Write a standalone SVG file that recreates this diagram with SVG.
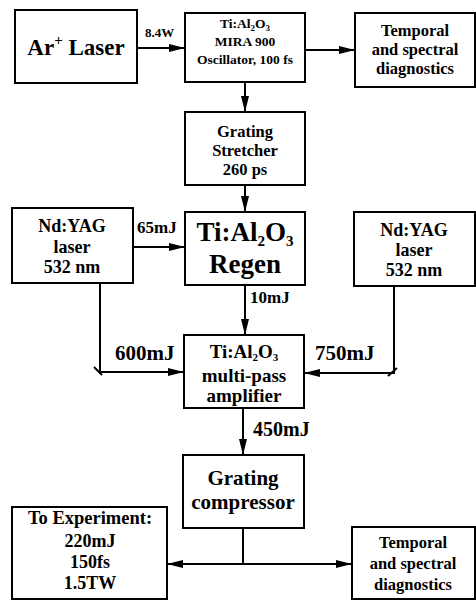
<svg xmlns="http://www.w3.org/2000/svg" width="476" height="600" viewBox="0 0 476 600">
<defs>
<marker id="ah" viewBox="0 0 16 8" refX="16" refY="4" markerWidth="16" markerHeight="8" markerUnits="userSpaceOnUse" orient="auto">
<path d="M0,0 L16,4 L0,8 z" fill="#000"/>
</marker>
</defs>
<style>
rect{fill:#fff;stroke:#000;stroke-width:2}
text{font-weight:bold;text-anchor:middle;fill:#000}
.c line,.c path{stroke:#000;stroke-width:2;fill:none}
.m{font-size:16.5px}
.n{font-size:18px}
.s{font-size:13.5px}
.l{font-size:17px;text-anchor:start}
</style>
<g font-family="Liberation Serif, serif">
<g id="ar-laser"><rect x="15" y="10" width="122" height="73"/><text x="76" y="55" style="font-size:23px">Ar<tspan dy="-10" style="font-size:15px">+</tspan><tspan dy="10"> Laser</tspan></text></g>
<g id="oscillator"><rect x="185" y="13" width="120" height="69"/>
<text class="s" x="245" y="28">Ti:Al<tspan dy="3" style="font-size:9px">2</tspan><tspan dy="-3">O</tspan><tspan dy="3" style="font-size:9px">3</tspan></text>
<text class="s" x="245" y="46">MIRA 900</text>
<text class="s" x="245" y="64">Oscillator, 100 fs</text></g>
<g id="diag-top"><rect x="355" y="13" width="120" height="74"/>
<text class="m" x="415" y="36">Temporal</text><text class="m" x="415" y="55">and spectral</text><text class="m" x="415" y="74">diagnostics</text></g>
<g id="stretcher"><rect x="185" y="112" width="120" height="73"/>
<text class="m" x="245" y="137">Grating</text><text class="m" x="245" y="156">Stretcher</text><text class="m" x="245" y="175">260 ps</text></g>
<g id="yag-left"><rect x="12" y="208" width="121" height="75"/>
<text class="n" x="72" y="232">Nd:YAG</text><text class="n" x="72" y="253">laser</text><text class="n" x="72" y="273">532 nm</text></g>
<g id="regen"><rect x="185" y="212" width="120" height="73"/>
<text x="245" y="241" style="font-size:27px">Ti:Al<tspan dy="5" style="font-size:15px">2</tspan><tspan dy="-5">O</tspan><tspan dy="5" style="font-size:15px">3</tspan></text>
<text x="245" y="273" style="font-size:27px">Regen</text></g>
<g id="yag-right"><rect x="354" y="212" width="121" height="74"/>
<text class="n" x="414" y="236">Nd:YAG</text><text class="n" x="414" y="256">laser</text><text class="n" x="414" y="276">532 nm</text></g>
<g id="multipass"><rect x="184" y="335" width="120" height="73"/>
<text x="244" y="358" style="font-size:19px">Ti:Al<tspan dy="3" style="font-size:11px">2</tspan><tspan dy="-3">O</tspan><tspan dy="3" style="font-size:11px">3</tspan></text>
<text x="244" y="382" style="font-size:19px">multi-pass</text><text x="244" y="402" style="font-size:19px">amplifier</text></g>
<g id="compressor"><rect x="183" y="455" width="121" height="73"/>
<text x="243" y="485" style="font-size:21px">Grating</text><text x="243" y="509" style="font-size:21px">compressor</text></g>
<g id="experiment"><rect x="12" y="507" width="155" height="92"/>
<text x="90" y="524" style="font-size:18.5px">To Experiment:</text><text class="n" x="90" y="547">220mJ</text><text class="n" x="90" y="568">150fs</text><text class="n" x="90" y="589">1.5TW</text></g>
<g id="diag-bottom"><rect x="352" y="527" width="123" height="72"/>
<text class="m" x="413" y="548">Temporal</text><text class="m" x="413" y="569">and spectral</text><text class="m" x="413" y="590">diagnostics</text></g>
<g class="c" id="connectors">
<line x1="137" y1="48" x2="185" y2="48" marker-end="url(#ah)"/>
<line x1="305" y1="50" x2="355" y2="50" marker-end="url(#ah)"/>
<line x1="245" y1="82" x2="245" y2="112" marker-end="url(#ah)"/>
<line x1="245" y1="185" x2="245" y2="212" marker-end="url(#ah)"/>
<line x1="133" y1="247" x2="185" y2="247" marker-end="url(#ah)"/>
<line x1="245" y1="285" x2="245" y2="335" marker-end="url(#ah)"/>
<path d="M100,283 V372 H184" marker-end="url(#ah)"/>
<line x1="94" y1="367" x2="102" y2="375"/>
<path d="M394,286 V373 H304" marker-end="url(#ah)"/>
<line x1="397" y1="368" x2="388" y2="376"/>
<line x1="243" y1="408" x2="243" y2="455" marker-end="url(#ah)"/>
<line x1="243" y1="528" x2="243" y2="564"/>
<line x1="243" y1="564" x2="167" y2="564" marker-end="url(#ah)"/>
<line x1="243" y1="564" x2="352" y2="564" marker-end="url(#ah)"/>
</g>
<g id="labels">
<text class="l" x="145" y="37" style="font-size:13px">8.4W</text>
<text class="l" x="137" y="233">65mJ</text>
<text class="l" x="250" y="303">10mJ</text>
<text class="l" x="115" y="360" style="font-size:21px">600mJ</text>
<text class="l" x="315" y="360" style="font-size:21px">750mJ</text>
<text class="l" x="253" y="436" style="font-size:20px">450mJ</text>
</g>
</g>
</svg>
